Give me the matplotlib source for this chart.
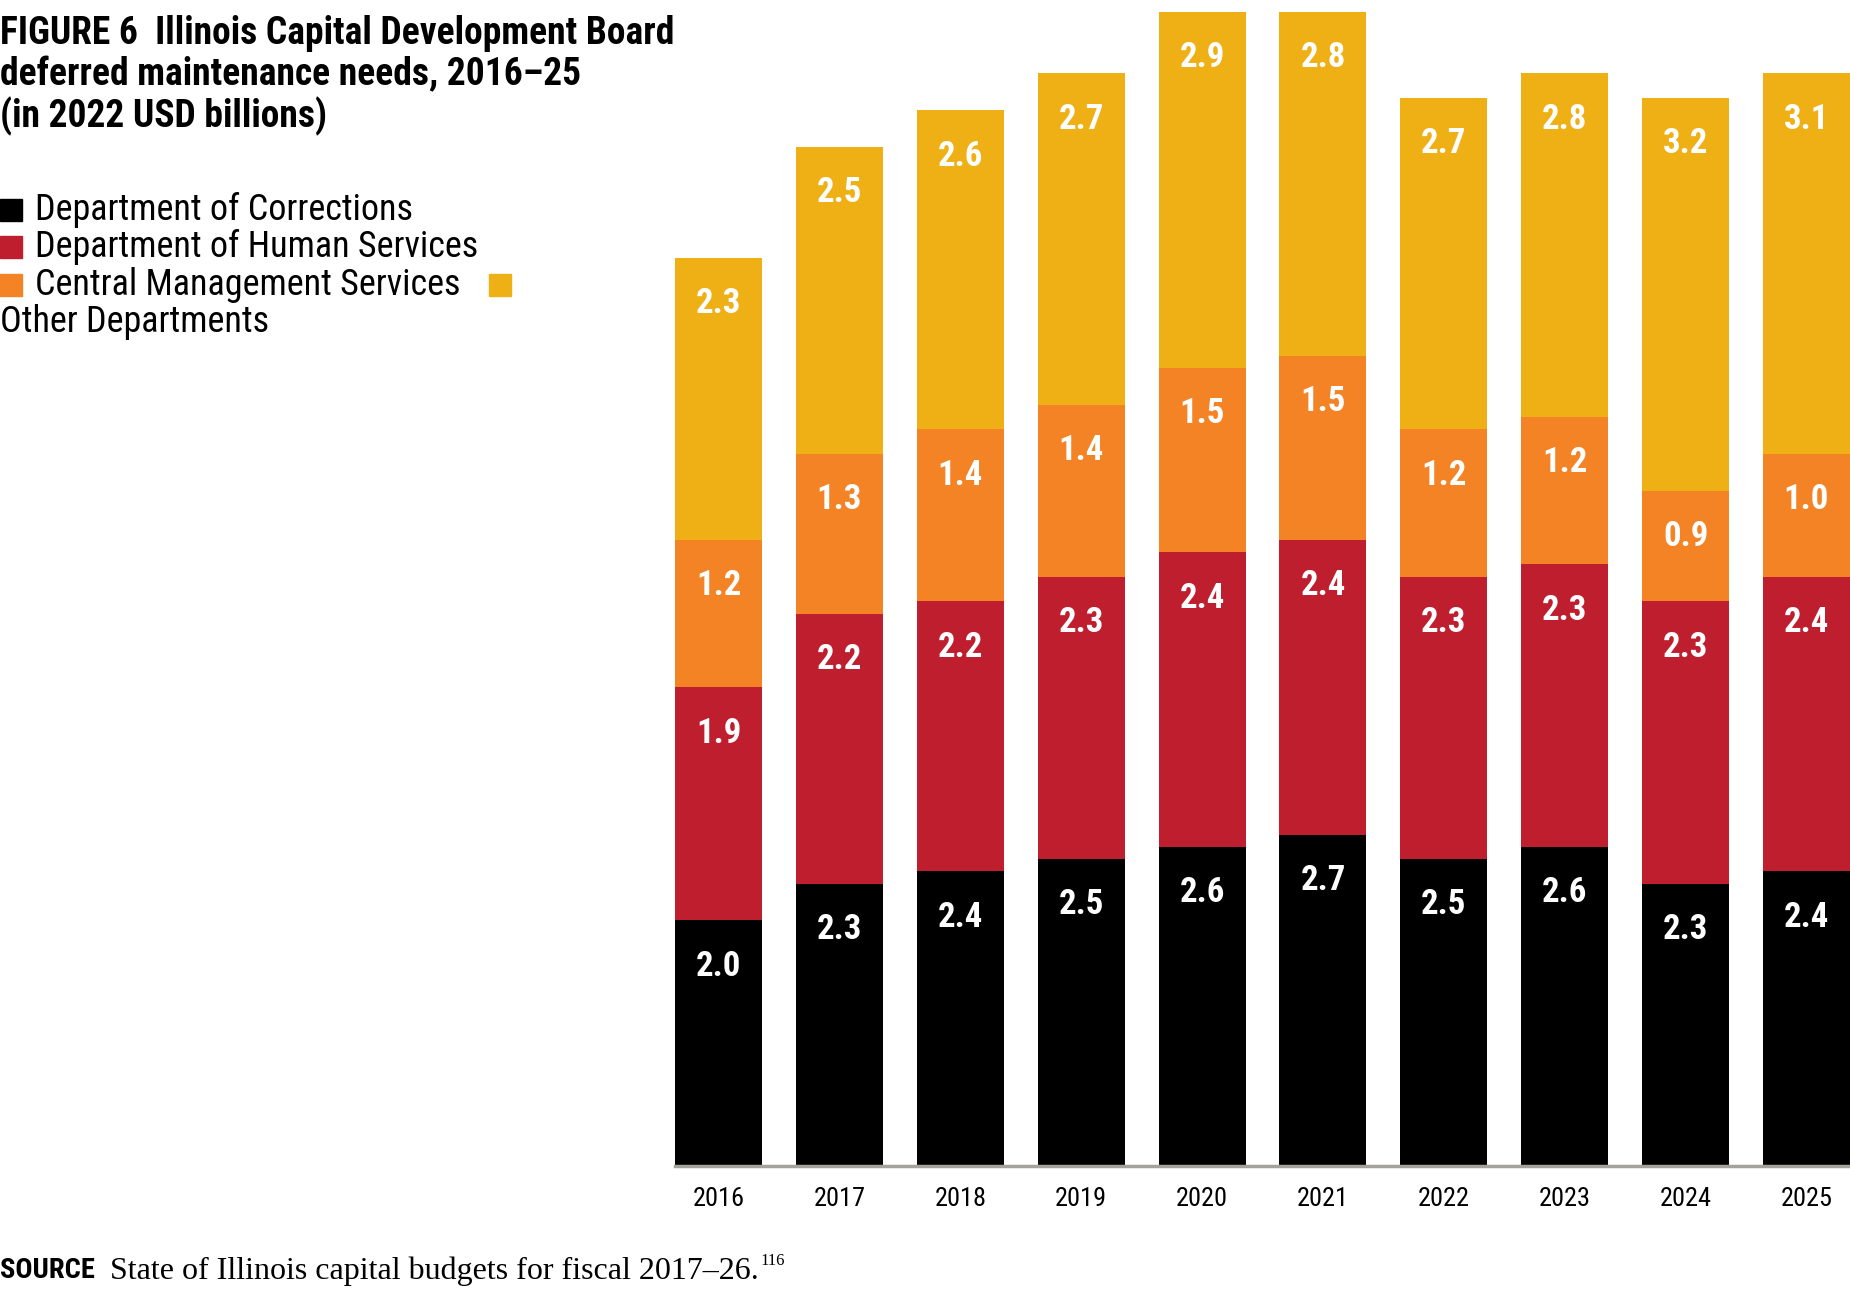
import matplotlib.pyplot as plt
from matplotlib import font_manager
from matplotlib.patches import Rectangle
import numpy as np

years = ["2016", "2017", "2018", "2019", "2020", "2021", "2022", "2023", "2024", "2025"]
corrections = [2.0, 2.3, 2.4, 2.5, 2.6, 2.7, 2.5, 2.6, 2.3, 2.4]
human_services = [1.9, 2.2, 2.2, 2.3, 2.4, 2.4, 2.3, 2.3, 2.3, 2.4]
central_mgmt = [1.2, 1.3, 1.4, 1.4, 1.5, 1.5, 1.2, 1.2, 0.9, 1.0]
other_depts = [2.3, 2.5, 2.6, 2.7, 2.9, 2.8, 2.7, 2.8, 3.2, 3.1]

series_names = ["Department of Corrections", "Department of Human Services",
                "Central Management Services", "Other Departments"]
colors = ["#000000", "#bf1e2e", "#f38324", "#efb016"]

# pick a narrow sans if one is installed
fonts = font_manager.fontManager.ttflist
names = {f.name for f in fonts}
COND = ["DejaVu Sans"]
for cand in ["Roboto Condensed", "Liberation Sans Narrow", "Open Sans Condensed", "Noto Sans Condensed"]:
    if cand in names:
        COND = [cand, "DejaVu Sans"]
        break
SERIF = ["Liberation Serif", "DejaVu Serif"]
TXT = dict(family=COND)

W, H = 1850, 1291

fig = plt.figure(figsize=(W / 100, H / 100), dpi=100)
ax = fig.add_axes([675 / W, (H - 1166) / H, 1175 / W, 1154 / H])

x = np.arange(len(years))
bottom = np.zeros(len(years))
for vals, col in zip([corrections, human_services, central_mgmt, other_depts], colors):
    vals = np.array(vals)
    ax.bar(x, vals, width=0.72, bottom=bottom, color=col, edgecolor="none")
    for xi, b, v in zip(x, bottom, vals):
        ax.annotate(f"{v:.1f}", xy=(xi, b + v), xytext=(0, -33), textcoords="offset points",
                    ha="center", va="center", color="white", fontsize=25,
                    fontweight="bold", **TXT)
    bottom += vals

ax.set_xlim(-0.36, 9.36)
ax.set_ylim(0, 9.4)
ax.set_xticks(x)
ax.set_xticklabels(years, fontsize=19, **TXT)
ax.tick_params(axis="x", length=0, pad=15)
ax.set_yticks([])
for s in ["top", "left", "right"]:
    ax.spines[s].set_visible(False)
ax.spines["bottom"].set_color("#a3a39b")
ax.spines["bottom"].set_linewidth(2.5)
ax.set_facecolor("none")

# title
title_lines = ["FIGURE 6  Illinois Capital Development Board",
               "deferred maintenance needs, 2016\u201325",
               "(in 2022 USD billions)"]
for yc, line in zip([34, 75, 116], title_lines):
    fig.text(0, 1 - yc / H, line, fontsize=27, fontweight="bold", va="center", ha="left", **TXT)

# legend, wrapped text with inline swatches
sq = 22
for yc, name, col in zip([210, 247, 285], series_names[:3], colors[:3]):
    fig.add_artist(Rectangle((0, 1 - (yc + sq / 2) / H), sq / W, sq / H,
                             transform=fig.transFigure, color=col))
    fig.text(35 / W, 1 - yc / H, name, fontsize=26, va="center", ha="left", **TXT)
fig.add_artist(Rectangle((489 / W, 1 - (285 + sq / 2) / H), sq / W, sq / H,
                         transform=fig.transFigure, color=colors[3]))
fig.text(0, 1 - 322 / H, series_names[3], fontsize=26, va="center", ha="left", **TXT)

# source
fig.text(0, 1 - 1271 / H, "SOURCE", fontsize=20.5, fontweight="bold", va="center", ha="left", **TXT)
src = fig.text(110 / W, 1 - 1271 / H, "State of Illinois capital budgets for fiscal 2017\u201326.",
               fontsize=23, family=SERIF, va="center", ha="left")
fig.canvas.draw()
bb = src.get_window_extent()
fig.text((bb.x1 + 2) / W, 1 - 1261 / H, "116", fontsize=12, family=SERIF, va="center", ha="left")

plt.savefig("out.png", dpi=100)
plt.close()
